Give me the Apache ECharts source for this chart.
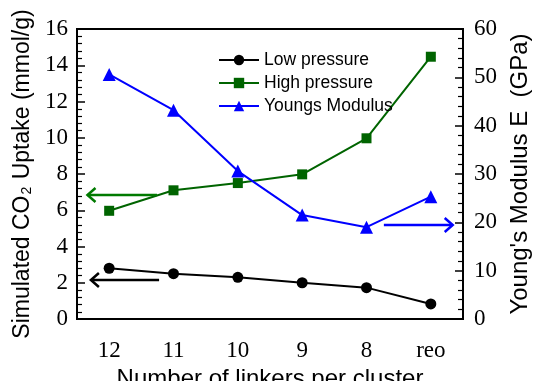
<!DOCTYPE html>
<html>
<head>
<meta charset="utf-8">
<script src="https://cdn.jsdelivr.net/npm/echarts@6/dist/echarts.min.js"></script>
<style>html,body{margin:0;padding:0;background:#fff}#c{width:537px;height:381px}</style>
</head>
<body>
<div id="c"></div>
<script>
const categories = ['12', '11', '10', '9', '8', 'reo'];
const lowPressure = [2.8, 2.5, 2.3, 2.0, 1.73, 0.83];
const highPressure = [5.97, 7.1, 7.5, 7.98, 9.97, 14.47];
const youngsModulus = [50.6, 43.2, 30.6, 21.5, 19.0, 25.3];
// arrows: [xStart(category index), xTip, y]
const arrowLow = [0.776, -0.284, 2.15];
const arrowHigh = [0.745, -0.337, 6.84];
const arrowYoung = [4.27, 5.34, 19.45];

const serif = 'Liberation Serif';
const sans = 'Liberation Sans';
const chart = echarts.init(document.getElementById('c'), null, {renderer: 'canvas'});

function arrowSeries(arr, yIdx, color) {
  return {
    type: 'custom',
    xAxisIndex: 2,
    yAxisIndex: yIdx,
    silent: true,
    data: [arr],
    z: 5,
    renderItem: function (params, api) {
      const a = api.coord([api.value(0), api.value(2)]);
      const b = api.coord([api.value(1), api.value(2)]);
      const dir = Math.sign(b[0] - a[0]);
      const hl = 8, hw = 7;
      return {
        type: 'group',
        children: [
          {type: 'line', shape: {x1: a[0], y1: a[1], x2: b[0], y2: b[1]}, style: {stroke: color, lineWidth: 2.5}},
          {type: 'polyline', shape: {points: [[b[0] - dir * hl, b[1] - hw], [b[0], b[1]], [b[0] - dir * hl, b[1] + hw]]}, style: {stroke: color, lineWidth: 2.5, fill: null}}
        ]
      };
    }
  };
}

const option = {
  animation: false,
  backgroundColor: '#fff',
  grid: {left: 77, right: 74, top: 29, bottom: 62, containLabel: false, outerBoundsMode: 'none',
    show: true, borderColor: '#000', borderWidth: 2, backgroundColor: 'transparent'},
  legend: {
    orient: 'vertical',
    left: 213,
    top: 46,
    itemWidth: 40,
    itemHeight: 13,
    itemGap: 5,
    textStyle: {fontFamily: sans, fontSize: 17.5, color: '#000', lineHeight: 17},
    data: ['Low pressure', 'High pressure', 'Youngs Modulus']
  },
  xAxis: [
    {
      type: 'category', data: categories, z: 10,
      axisLine: {onZero: false, lineStyle: {color: '#000', width: 2}},
      axisTick: {inside: true, alignWithLabel: true, length: 6, lineStyle: {color: '#000', width: 1.5}},
      axisLabel: {fontFamily: serif, fontSize: 23, color: '#000', margin: 20, interval: 0},
      name: 'Number of linkers per cluster', nameLocation: 'middle', nameGap: 38,
      nameTextStyle: {fontFamily: sans, fontSize: 24, color: '#000'}
    },
    {
      type: 'category', data: categories, position: 'top', z: 10,
      axisLine: {onZero: false, lineStyle: {color: '#000', width: 2}},
      axisTick: {inside: true, alignWithLabel: true, length: 6, lineStyle: {color: '#000', width: 1.5}},
      axisLabel: {show: true, color: 'rgba(0,0,0,0)', fontSize: 10, interval: 0}
    },
    {
      type: 'value', min: -0.5, max: 5.5, show: false
    }
  ],
  yAxis: [
    {
      type: 'value', min: 0, max: 16, interval: 2, z: 10,
      axisLine: {show: true, onZero: false, lineStyle: {color: '#000', width: 2}},
      axisTick: {show: true, inside: true, length: 8, lineStyle: {color: '#000', width: 1.5}},
      minorTick: {show: true, splitNumber: 5, length: 5, lineStyle: {color: '#000', width: 1.2}},
      splitLine: {show: false},
      axisLabel: {fontFamily: serif, fontSize: 23, color: '#000', margin: 9},
      name: '{n|Simulated CO}{s|2}{n| Uptake (mmol/g)}', nameLocation: 'middle', nameGap: 36, nameRotate: 90,
      nameTextStyle: {
        color: '#000',
        rich: {
          n: {fontFamily: sans, fontSize: 23, color: '#000', lineHeight: 26, verticalAlign: 'bottom'},
          s: {fontFamily: sans, fontSize: 14, color: '#000', lineHeight: 14, verticalAlign: 'bottom', padding: [0, 1, 0, 1]}
        }
      }
    },
    {
      type: 'value', min: 0, max: 60, interval: 10, position: 'right', z: 10,
      axisLine: {show: true, onZero: false, lineStyle: {color: '#000', width: 2}},
      axisTick: {show: true, inside: true, length: 8, lineStyle: {color: '#000', width: 1.5}},
      minorTick: {show: true, splitNumber: 5, length: 5, lineStyle: {color: '#000', width: 1.2}},
      splitLine: {show: false},
      axisLabel: {fontFamily: serif, fontSize: 23, color: '#000', margin: 11},
      name: "Young's Modulus E  (GPa)", nameLocation: 'middle', nameGap: 44, nameRotate: 90,
      nameTextStyle: {fontFamily: sans, fontSize: 24, color: '#000'}
    }
  ],
  series: [
    {
      name: 'Low pressure', type: 'line', data: lowPressure, xAxisIndex: 0, yAxisIndex: 0,
      symbol: 'circle', symbolSize: 11, showAllSymbol: true,
      lineStyle: {color: '#000', width: 2}, itemStyle: {color: '#000'}, z: 3
    },
    {
      name: 'High pressure', type: 'line', data: highPressure, xAxisIndex: 0, yAxisIndex: 0,
      symbol: 'rect', symbolSize: 10, showAllSymbol: true,
      lineStyle: {color: '#006400', width: 2}, itemStyle: {color: '#006400'}, z: 3
    },
    {
      name: 'Youngs Modulus', type: 'line', data: youngsModulus, xAxisIndex: 0, yAxisIndex: 1,
      symbol: 'triangle', symbolSize: 13, showAllSymbol: true,
      lineStyle: {color: '#0000ff', width: 2}, itemStyle: {color: '#0000ff'}, z: 3
    },
    arrowSeries(arrowLow, 0, '#000'),
    arrowSeries(arrowHigh, 0, '#007a00'),
    arrowSeries(arrowYoung, 1, '#0000ff')
  ]
};
chart.setOption(option);
</script>
</body>
</html>
